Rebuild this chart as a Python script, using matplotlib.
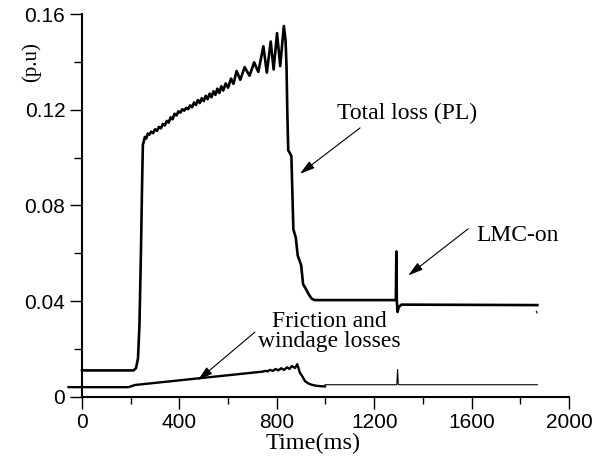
import matplotlib
matplotlib.use("Agg")
import matplotlib.pyplot as plt
from matplotlib.ticker import FixedLocator, FixedFormatter

# ---------------- data ----------------
# Total loss (PL)
tl_t = [0, 212, 222, 230, 236, 242, 247, 250,
        252, 258, 264, 270, 276, 284, 292, 300, 308, 316, 324, 332, 340, 348, 356,
        364, 372, 380, 388, 396, 404, 412, 420, 428, 436, 444, 452, 460, 468, 476,
        484, 492, 500, 508, 516, 524, 532, 540, 548, 556, 564, 572, 580, 590, 600,
        612, 622, 635, 650, 668, 688, 707, 724, 745, 759, 775, 787, 801, 814, 829,
        836, 840, 843, 847, 854, 860, 868, 878, 886, 900, 908, 920, 930, 943, 955,
        1289, 1291, 1293, 1296, 1301, 1312, 1870]
tl_v = [0.0110, 0.0110, 0.0120, 0.0160, 0.0300, 0.0600, 0.0900, 0.1055,
        0.1060, 0.1086, 0.1080, 0.1100, 0.1095, 0.1108, 0.1102, 0.1118, 0.1112, 0.1128, 0.1122, 0.1140, 0.1134, 0.1153, 0.1146,
        0.1168, 0.1160, 0.1183, 0.1176, 0.1193, 0.1188, 0.1202, 0.1196, 0.1208, 0.1202, 0.1218, 0.1210, 0.1230, 0.1220, 0.1240,
        0.1228, 0.1248, 0.1236, 0.1258, 0.1244, 0.1267, 0.1252, 0.1277, 0.1262, 0.1288, 0.1270, 0.1298, 0.1280, 0.1310, 0.1292,
        0.1330, 0.1308, 0.1362, 0.1325, 0.1378, 0.1342, 0.1398, 0.1358, 0.1465, 0.1355, 0.1485, 0.1368, 0.1520, 0.1382, 0.1550,
        0.1490, 0.1380, 0.1200, 0.1030, 0.1018, 0.1005, 0.0700, 0.0665, 0.0590, 0.0550, 0.0470, 0.0450, 0.0430, 0.0410, 0.0404,
        0.0404, 0.0607, 0.0400, 0.0354, 0.0375, 0.0385, 0.0383]
tail_t = [1866, 1869]
tail_v = [0.0357, 0.0350]

# Friction and windage losses (thick part)
fw_t = [-55, 190, 200, 218, 743, 752, 762, 772, 784, 795, 806, 818, 830, 842,
        852, 862, 875, 884, 895, 905, 916, 930, 943, 960, 980, 998]
fw_v = [0.0040, 0.0040, 0.0043, 0.0049, 0.0105, 0.0108, 0.0106, 0.0112, 0.0108,
        0.0116, 0.0110, 0.0119, 0.0112, 0.0123, 0.0116, 0.0128, 0.0120, 0.0136,
        0.0100, 0.0085, 0.0065, 0.0055, 0.0050, 0.0046, 0.0044, 0.0043]
# Friction and windage losses (thin continuation)
fw2_t = [998, 1293, 1296, 1299, 1302, 1870]
fw2_v = [0.0050, 0.0050, 0.0114, 0.0052, 0.0050, 0.0050]

x_ticks = [0, 400, 800, 1200, 1600, 2000]
x_labels = ["0", "400", "800", "1200", "1600", "2000"]
x_minor = [200, 600, 1000, 1400, 1800]
y_ticks = [0, 0.04, 0.08, 0.12, 0.16]
y_labels = ["0", "0.04", "0.08", "0.12", "0.16"]
y_minor = [0.02, 0.06, 0.10, 0.14]

# ---------------- figure ----------------
serif = ["Liberation Serif", "DejaVu Serif"]
sans = ["Liberation Sans", "DejaVu Sans"]

fig = plt.figure(figsize=(5.99, 4.66), dpi=100)
ax = fig.add_axes([0.1125, 0.1487, 0.8374, 0.8212])

ax.plot(tl_t, tl_v, color="black", lw=1.9, clip_on=False, solid_joinstyle="round")
ax.plot(tail_t, tail_v, color="black", lw=0.8, clip_on=False)
ax.plot(fw_t, fw_v, color="black", lw=1.7, clip_on=False, solid_joinstyle="round")
ax.plot(fw2_t, fw2_v, color="black", lw=0.8, clip_on=False)

ax.set_xlim(-60, 2000)
ax.set_ylim(0, 0.16)

for s in ["top", "right"]:
    ax.spines[s].set_visible(False)
ax.spines["left"].set_position(("data", 0))
ax.spines["left"].set_bounds(0, 0.16)
ax.spines["bottom"].set_bounds(0, 2000)
ax.spines["left"].set_linewidth(1.5)
ax.spines["bottom"].set_linewidth(1.5)

ax.xaxis.set_major_locator(FixedLocator(x_ticks))
ax.xaxis.set_major_formatter(FixedFormatter(x_labels))
ax.xaxis.set_minor_locator(FixedLocator(x_minor))
ax.yaxis.set_major_locator(FixedLocator(y_ticks))
ax.yaxis.set_major_formatter(FixedFormatter(y_labels))
ax.yaxis.set_minor_locator(FixedLocator(y_minor))

ax.tick_params(axis="x", which="major", direction="out", length=8.5, width=1.0, pad=3)
ax.tick_params(axis="x", which="minor", direction="out", length=5, width=1.0)
ax.tick_params(axis="y", which="major", direction="out", length=9, width=1.0, pad=3)
ax.tick_params(axis="y", which="minor", direction="out", length=6, width=1.0)
for lab in ax.get_xticklabels() + ax.get_yticklabels():
    lab.set_fontfamily(sans)
    lab.set_fontsize(15)

ax.set_xlabel("Time(ms)", fontfamily=serif, fontsize=17.5)
ax.xaxis.set_label_coords(0.49, -0.095)
ax.text(-0.072, 0.875, "(p.u)", transform=ax.transAxes, rotation=90,
        fontfamily=serif, fontsize=15, ha="center", va="center")

arrow = dict(arrowstyle="-|>,head_length=0.45,head_width=0.13", color="black",
             lw=0.8, shrinkA=0, shrinkB=0, mutation_scale=20)
ax.annotate("", xy=(895, 0.0932), xytext=(1142, 0.1124), arrowprops=arrow)
ax.text(1047, 0.1185, "Total loss (PL)", fontfamily=serif, fontsize=17,
        ha="left", va="center")
ax.annotate("", xy=(1340, 0.0507), xytext=(1586, 0.0702), arrowprops=arrow)
ax.text(1618, 0.0674, "LMC-on", fontfamily=serif, fontsize=17,
        ha="left", va="center")
ax.annotate("", xy=(476, 0.0069), xytext=(710, 0.0270), arrowprops=arrow)
ax.text(1014, 0.0272, "Friction and\nwindage losses", fontfamily=serif,
        fontsize=17, ha="center", va="center", multialignment="center",
        linespacing=0.95)

fig.savefig("out.png", dpi=100)
